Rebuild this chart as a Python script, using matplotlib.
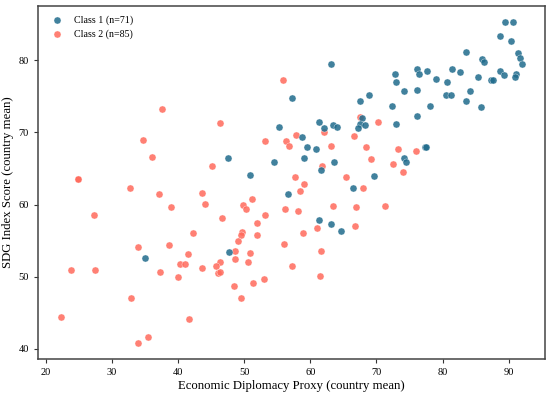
import numpy as np
import matplotlib
matplotlib.use('Agg')
import matplotlib.pyplot as plt

plt.rcParams['font.family'] = ['Liberation Serif', 'DejaVu Serif']

# Class 1 points (economic diplomacy proxy, SDG index score)
class1_x = [89.4, 90.65, 88.7, 90.35, 83.6, 91.35, 91.7, 92.05, 86.0, 86.26,
            63.2, 72.75, 76.2, 76.5, 77.6, 81.4, 82.7, 88.7, 89.3, 91.05,
            90.9, 73.0, 79.0, 80.6, 85.4, 87.4, 87.7, 74.1, 76.1, 80.5,
            81.3, 84.1, 83.5, 85.8, 57.2, 67.55, 68.8, 72.4, 78.1, 76.1,
            55.25, 61.25, 62.1, 63.5, 64.0, 67.8, 67.5, 68.2, 67.15, 72.9,
            58.7, 59.5, 60.9, 59.0, 63.6, 61.65, 54.5, 69.6, 66.5, 56.65,
            74.1, 74.5, 77.4, 77.45, 61.25, 63.1, 64.7, 35.0, 47.7, 47.5,
            50.9]
class1_y = [85.3, 85.3, 83.3, 82.7, 81.1, 81.0, 80.3, 79.5, 80.1, 79.75,
            79.4, 78.1, 78.8, 78.1, 78.5, 78.7, 78.4, 78.45, 77.95, 78.1,
            77.6, 76.9, 77.4, 77.0, 77.6, 77.2, 77.2, 75.7, 75.9, 75.2,
            75.2, 75.7, 74.3, 73.5, 74.7, 74.4, 75.1, 73.65, 73.6, 72.3,
            70.8, 71.4, 70.6, 71.0, 70.75, 72.0, 71.2, 71.0, 70.6, 71.1,
            69.4, 67.9, 67.65, 66.5, 65.9, 64.8, 65.9, 63.9, 62.3, 61.4,
            66.5, 65.85, 67.9, 67.95, 57.8, 57.3, 56.4, 52.65, 53.4, 66.4,
            64.15]

# Class 2 points
class2_x = [55.85, 37.5, 46.3, 34.7, 36.1, 45.1, 53.2, 56.35, 56.75, 24.85,
            24.9, 32.75, 37.1, 43.6, 51.2, 44.0, 38.9, 27.3, 49.75, 50.2,
            46.6, 53.1, 51.9, 56.2, 42.2, 49.65, 49.45, 51.9, 49.0, 38.65,
            34.0, 56.0, 41.5, 48.6, 50.9, 48.55, 46.3, 45.8, 40.3, 41.05,
            43.65, 50.55, 46.0, 46.4, 57.2, 23.8, 27.5, 37.25, 39.95, 53.05,
            51.35, 48.45, 32.8, 49.45, 22.25, 41.7, 35.5, 33.9, 59.0, 58.5,
            68.0, 58.2, 63.5, 66.85, 71.3, 60.95, 66.7, 58.9, 61.55, 61.45,
            61.8, 69.2, 72.5, 73.95, 76.0, 73.3, 65.4, 57.9, 62.1, 63.2,
            66.65, 67.5, 70.2, 68.45, 57.7]
class2_y = [77.26, 73.2, 71.26, 69.0, 66.6, 65.35, 68.8, 68.8, 68.1, 63.6,
            63.6, 62.25, 61.4, 61.6, 60.7, 60.1, 59.7, 58.6, 60.0, 59.35,
            58.2, 58.5, 57.5, 59.4, 56.1, 56.25, 55.8, 55.8, 54.9, 54.45,
            54.1, 54.5, 53.2, 53.5, 53.25, 52.5, 52.05, 51.5, 51.8, 51.7,
            51.2, 52.05, 50.56, 50.6, 51.45, 51.0, 50.95, 50.7, 49.9, 49.65,
            49.2, 48.7, 47.0, 47.1, 44.4, 44.15, 41.6, 40.8, 62.9, 61.9,
            62.3, 59.05, 59.75, 59.6, 59.85, 56.8, 57.0, 56.0, 53.5, 50.15,
            65.4, 66.3, 65.6, 64.5, 67.35, 67.65, 63.75, 69.6, 70.0, 68.1,
            69.5, 72.1, 71.4, 68.0, 63.8]

labels = ['Class 1 (n=71)', 'Class 2 (n=85)']
colors = ['#1f6b8c', '#ff6a5c']

fig = plt.figure(figsize=(5.5, 3.95), dpi=100)
ax = fig.add_axes([0.069, 0.091, 0.922, 0.894])

ax.scatter(class1_x, class1_y, s=26, color=colors[0], alpha=0.85,
           edgecolors='white', linewidths=0.3, label=labels[0], zorder=3)
ax.scatter(class2_x, class2_y, s=26, color=colors[1], alpha=0.85,
           edgecolors='white', linewidths=0.3, label=labels[1], zorder=2)

ax.set_xlim(18.8, 95.5)
ax.set_ylim(38.6, 87.5)
ax.set_xticks([20, 30, 40, 50, 60, 70, 80, 90])
ax.set_yticks([40, 50, 60, 70, 80])
ax.tick_params(labelsize=7.5, length=3, width=0.8, color='#333333')

for spine in ax.spines.values():
    spine.set_color('#444444')
    spine.set_linewidth(1.1)

ax.set_xlabel('Economic Diplomacy Proxy (country mean)', fontsize=9.2, labelpad=2)
ax.set_ylabel('SDG Index Score (country mean)', fontsize=9.2, labelpad=3)

ax.legend(loc='upper left', frameon=False, fontsize=7.2, handletextpad=0.7,
          borderaxespad=0.4, borderpad=0.5)

fig.savefig('out.png', dpi=100)
